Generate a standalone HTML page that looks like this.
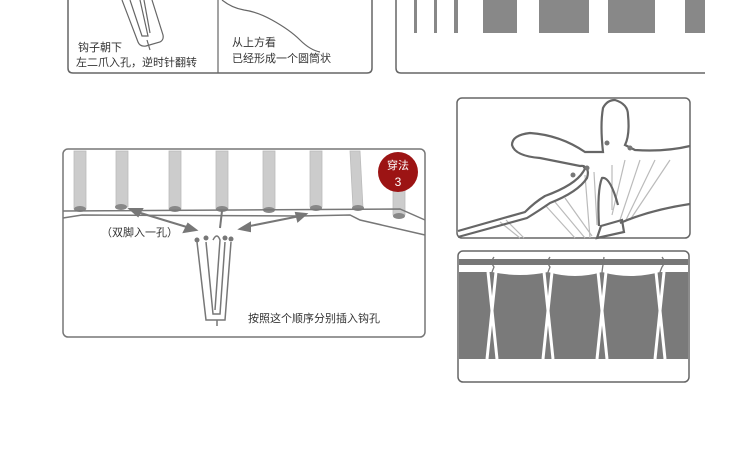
<!DOCTYPE html>
<html><head><meta charset="utf-8"><style>
html,body{margin:0;padding:0;background:#fff}
svg{display:block}
text{font-family:"Liberation Sans","Noto Sans CJK SC",sans-serif;fill:#333}
</style></head><body>
<svg width="750" height="451" viewBox="0 0 750 451" xmlns="http://www.w3.org/2000/svg">
<rect width="750" height="451" fill="#fff"/>
<path d="M68,-5 V68 Q68,73 73,73 H367 Q372,73 372,68 V-5" fill="none" stroke="#666" stroke-width="1.5"/>
<line x1="218" y1="-5" x2="218" y2="73" stroke="#666" stroke-width="1.2"/>
<g fill="none" stroke="#666" stroke-width="1.2">
<path d="M122,0 L138,42 Q140,47 146,46 L160,42 Q164,40 163,35 L152,0"/>
<path d="M130,0 L142,36 L148,36 L140,0"/>
<path d="M144,0 L150,33"/>
<path d="M147,40 L150,50"/>
<path d="M222,0 Q232,8 244,10 Q258,12 272,20 Q290,30 300,40 Q310,50 320,52"/>
</g>
<text x="78" y="51" font-size="11">钩子朝下</text>
<text x="76" y="66" font-size="11">左二爪入孔，逆时针翻转</text>
<text x="232" y="46" font-size="11">从上方看</text>
<text x="232" y="62" font-size="11">已经形成一个圆筒状</text>
<path d="M396,-5 V68 Q396,73 401,73 H705" fill="none" stroke="#666" stroke-width="1.5"/>
<g fill="#888">
<rect x="414" y="0" width="3" height="33"/>
<rect x="434" y="0" width="3" height="33"/>
<rect x="454" y="0" width="4" height="33"/>
<rect x="483" y="0" width="34" height="33"/>
<rect x="539" y="0" width="50" height="33"/>
<rect x="608" y="0" width="47" height="33"/>
<rect x="685" y="0" width="20" height="33"/>
</g>
<rect x="63" y="149" width="362" height="188" rx="5" fill="none" stroke="#777" stroke-width="1.5"/>
<g fill="#ccc" stroke="#bbb" stroke-width="0.8">
<rect x="74" y="151" width="12" height="58"/>
<rect x="116" y="151" width="12" height="56"/>
<rect x="169" y="151" width="12" height="58"/>
<rect x="216" y="151" width="12" height="58"/>
<rect x="263" y="151" width="12" height="58"/>
<rect x="310" y="151" width="12" height="56"/>
<path d="M350,151 L360,151 L363,208 L353,208Z"/>
<rect x="393" y="190" width="12" height="25"/>
</g>
<g fill="#888">
<ellipse cx="80" cy="209" rx="6" ry="3"/><ellipse cx="121" cy="207" rx="6" ry="3"/>
<ellipse cx="175" cy="209" rx="6" ry="3"/><ellipse cx="222" cy="209" rx="6" ry="3"/>
<ellipse cx="269" cy="210" rx="6" ry="3"/><ellipse cx="316" cy="208" rx="6" ry="3"/>
<ellipse cx="358" cy="208" rx="6" ry="3"/><ellipse cx="399" cy="216" rx="6" ry="3"/>
</g>
<g fill="none" stroke="#777" stroke-width="1.5">
<path d="M63,211 L400,209 L425,220"/>
<path d="M63,218 L82,215 L300,216 L350,215 L360,220 L425,235"/>
</g>
<g stroke="#777" stroke-width="2" fill="#777">
<line x1="134" y1="211" x2="190" y2="228"/>
<polygon points="130,209 142,209 138,216"/>
<polygon points="196,230 184,232 188,224"/>
<line x1="222" y1="211" x2="220" y2="228"/>
<line x1="245" y1="227" x2="300" y2="216"/>
<polygon points="240,229 250,223 250,231"/>
<polygon points="306,214 296,213 298,221"/>
</g>
<g fill="none" stroke="#777" stroke-width="1.5">
<path d="M197,242 L206,320 L225,320 L231,242"/>
<path d="M206,242 L213,314 L220,314 L225,242"/>
<path d="M213,240 Q217,232 220,240 L215,310 M217,320 V326"/>
</g>
<g fill="#777"><circle cx="197" cy="240" r="2.5"/><circle cx="206" cy="238" r="2.5"/><circle cx="225" cy="238" r="2.5"/><circle cx="231" cy="239" r="2.5"/></g>
<text x="101" y="236" font-size="11">（双脚入一孔）</text>
<text x="248" y="322" font-size="11">按照这个顺序分别插入钩孔</text>
<circle cx="398" cy="172" r="20" fill="#9c1414"/>
<text x="398" y="169" font-size="11" text-anchor="middle" style="fill:#fff">穿法</text>
<text x="398" y="186" font-size="12" text-anchor="middle" style="fill:#fff">3</text>
<!-- right top box -->
<rect x="457" y="98" width="233" height="140" rx="5" fill="none" stroke="#666" stroke-width="1.5"/>
<g stroke="#bbb" stroke-width="1.2" fill="none">
<path d="M545,205 L575,238 M555,202 L585,238 M565,198 L592,236 M585,175 L590,238 M594,172 L597,225 M612,165 L612,210 M625,160 L612,215 M640,160 L620,220 M655,160 L625,222 M670,160 L630,220 M500,222 L520,238 M506,220 L524,238"/>
</g>
<g fill="none" stroke="#666" stroke-width="2.2">
<path d="M458,231 L525,212 Q535,202 545,196 Q575,185 583,172 Q588,165 580,166 Q565,163 540,158 Q515,156 512,145 Q512,135 530,133 Q560,135 585,152 L603,152 Q600,125 603,108 Q607,100 615,100 Q628,104 628,115 Q630,135 625,145 L635,150 Q665,152 690,146"/>
<path d="M458,237 L527,218 Q540,210 550,203 Q578,192 587,178 Q590,168 583,167"/>
<path d="M599,226 Q597,190 602,178 Q610,176 618,205"/>
<path d="M597,238 L601,226 L622,220 L624,232 Z"/>
<path d="M620,223 Q650,210 690,204"/>
</g>
<g fill="#777"><circle cx="587" cy="168" r="2.5"/><circle cx="607" cy="143" r="2.5"/><circle cx="630" cy="148" r="2.5"/><circle cx="573" cy="175" r="2.5"/></g>
<!-- right bottom box -->
<rect x="458" y="251" width="231" height="131" rx="5" fill="none" stroke="#666" stroke-width="1.5"/>
<rect x="459" y="259" width="229" height="6" fill="#777"/>
<path d="M459,272 L492,272 Q520,278 548,272 Q575,280 602,272 Q630,280 660,272 L688,272 V359 H459Z" fill="#7a7a7a"/>
<g stroke="#fff" stroke-width="3" fill="none">
<path d="M487,359 L496,272 M497,359 L488,272"/>
<path d="M543,359 L552,272 M553,359 L544,272"/>
<path d="M597,359 L606,272 M607,359 L598,272"/>
<path d="M655,359 L664,272 M665,359 L656,272"/>
</g>
<g stroke="#777" stroke-width="1.3" fill="none">
<path d="M494,257 Q490,262 494,267 L492,272"/>
<path d="M550,257 Q546,262 550,267 L548,272"/>
<path d="M604,257 L602,272"/>
<path d="M662,257 Q666,262 662,267 L660,272"/>
</g>
</svg>
</body></html>
